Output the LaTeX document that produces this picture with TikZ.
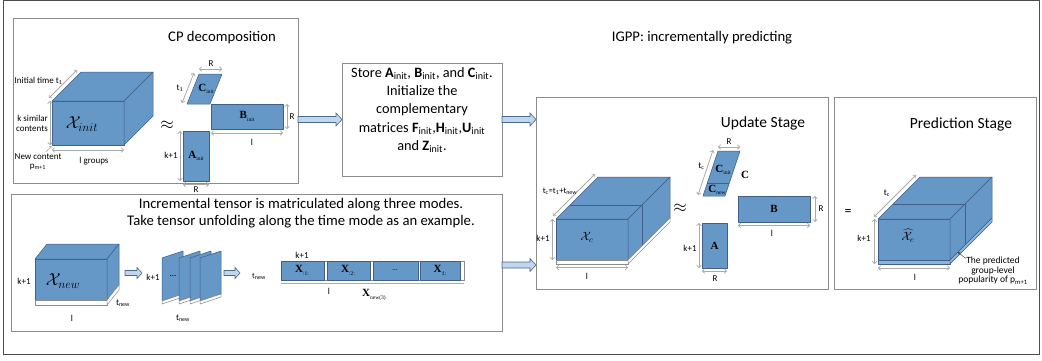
\documentclass[tikz,border=0pt]{standalone}
\usepackage{fontspec}
\setmainfont{Carlito}
\newfontfamily\serif{Liberation Serif}
\usetikzlibrary{arrows.meta,calc}
\definecolor{cubefill}{RGB}{101,151,199}
\definecolor{cubeedge}{RGB}{65,95,135}
\definecolor{stripfill}{RGB}{140,180,218}
\definecolor{boxgray}{RGB}{140,140,140}
\definecolor{dimgray}{RGB}{170,170,170}
\definecolor{arrfill}{RGB}{192,213,238}
\definecolor{arredge}{RGB}{75,105,140}
\newcommand\msub[2]{{\serif\bfseries #1}\raisebox{-0.45ex}{\serif\fontsize{5.5}{6}\selectfont #2}}
\newcommand\ssub[2]{\textbf{#1}\textsubscript{#2}}
\newcommand\drawcube[6]{%
  \filldraw[cube] (#1,#2) rectangle ++(#3,#4);
  \filldraw[cube] (#1,#2) -- ++(#5,-#6) -- ++(#3,0) -- ++(-#5,#6) -- cycle;
  \filldraw[cube] (#1+#3,#2) -- ++(#5,-#6) -- ++(0,#4) -- ++(-#5,#6) -- cycle;
}
\tikzset{
  box/.style={draw=boxgray, line width=0.7pt, anchor=north west, inner sep=0pt, outer sep=0pt},
  cube/.style={fill=cubefill, draw=cubeedge, line width=0.5pt, line join=round},
  strip/.style={fill=white, draw=boxgray, line width=0.5pt},
  dim/.style={draw=dimgray, line width=0.8pt, {Straight Barb[length=2pt,width=4.5pt]}-{Straight Barb[length=2pt,width=4.5pt]}},
  lab/.style={font=\fontsize{9}{10}\selectfont, inner sep=0.5pt},
  mlab/.style={font=\fontsize{11}{12}\selectfont, inner sep=0.5pt},
  title/.style={font=\fontsize{14.7}{17}\selectfont, inner sep=0pt},
  barrow/.style n args={3}{fill=arrfill, draw=arredge, line width=0.6pt, line join=miter,
    to path={let \p1=(\tikztostart), \p2=(\tikztotarget) in
      ({\x1},{\y1+#1}) -- ({\x2-#3},{\y1+#1}) -- ({\x2-#3},{\y1+#2}) -- ({\x2},{\y1})
      -- ({\x2-#3},{\y1-#2}) -- ({\x2-#3},{\y1-#1}) -- ({\x1},{\y1-#1}) -- cycle}}
}
\begin{document}
\begin{tikzpicture}[x=1pt,y=-1pt]
\useasboundingbox (0,0) rectangle (1042,360);
% outer frame
\draw[black!70, line width=0.9pt] (3.5,0.5) rectangle (1039.5,354);
% boxes
\node[box, minimum width=285pt, minimum height=165pt] (cpbox) at (13,18) {};
\node[box, minimum width=160pt, minimum height=113pt] (storebox) at (342,63) {};
\node[box, minimum width=491pt, minimum height=137pt] (botbox) at (11,194) {};
\node[box, minimum width=292pt, minimum height=192pt] (updbox) at (536,97) {};
\node[box, minimum width=202pt, minimum height=192pt] (predbox) at (834,97) {};
% big connectors
\draw[barrow={3pt}{6.5pt}{6pt}] (cpbox.east |- storebox.west) to (storebox.west);
\draw[barrow={3pt}{6.5pt}{6pt}] (storebox.east) to (updbox.west |- storebox.east);
\coordinate (y265) at (0,265);
\coordinate (botout) at (botbox.east |- y265);
\coordinate (updin) at (updbox.west |- y265);
\draw[barrow={3pt}{6.5pt}{6pt}] (botout) to (updin);
% titles
\node[title] (cptitle) at (222,38) {CP decomposition};
\node[title] (igpp) at (702,38) {IGPP: incrementally predicting};
\node[title, font=\fontsize{15.5}{17}\selectfont] (updtitle) at (763,123) {Update Stage};
\node[title, font=\fontsize{15.5}{17}\selectfont] (predtitle) at (961,124) {Prediction Stage};
\node[title, align=center, font=\fontsize{14.3}{18.2}\selectfont] (storetext) at (422,110)
  {Store \ssub{A}{init}, \ssub{B}{init}, and \ssub{C}{init}.\\Initialize the\\complementary\\matrices \ssub{F}{init},\ssub{H}{init},\ssub{U}{init}\\and \ssub{Z}{init}.};
\node[title, align=center, font=\fontsize{14.7}{17}\selectfont] (bottext) at (301,213.5)
  {Incremental tensor is matriculated along three modes.\\Take tensor unfolding along the time mode as an example.};

% ---------- CP decomposition ----------
\drawcube{52}{101}{72}{44}{29}{29}
\node[font=\fontsize{18}{18}\selectfont, inner sep=0pt] (xinit) at (82,124) {$\mathcal{X}_{init}$};
\draw[dim] (49,98) -- (77,70);
\node[lab, anchor=west] (inittime) at (14,81) {Initial time t\textsubscript{1}};
\draw[dim] (50,101) -- (50,145);
\node[lab, align=right, anchor=east, font=\fontsize{9}{10}\selectfont] (ksim) at (48.5,123) {k similar\\contents};
\node[lab, anchor=west] (newc) at (14,157) {New content};
\node[lab] (pm1) at (38,167) {p\textsubscript{m+1}};
\draw[dimgray, line width=0.6pt, -{Straight Barb[length=1.5pt,width=3pt]}] (46,152) -- (51.5,146);
\draw[dim] (52,150) -- (124,150);
\node[lab] (lgroups) at (94,161) {l groups};
\node[font=\fontsize{16}{16}\selectfont] (approx1) at (167,125) {$\approx$};
% C_init
\filldraw[cube] (187,104) -- (210,104) -- (222,74) -- (199,74) -- cycle;
\node[mlab] (cinit) at (206,89) {\msub{C}{init}};
\draw[dim] (199,69) -- (222,69);
\node[lab] (cr) at (211,63.5) {R};
\draw[dim] (182,103) -- (194,73);
\node[lab] (ct1) at (180,88) {t\textsubscript{1}};
% B_init
\filldraw[cube] (211,104) rectangle (283,129);
\node[mlab] (binit) at (247,116.5) {\msub{B}{init}};
\draw[dim] (287,104) -- (287,129);
\node[lab] (br) at (292,117) {R};
\draw[dim] (211,133) -- (283,133);
\node[lab] (bl) at (252,142) {l};
% A_init
\filldraw[cube] (183,131) rectangle (209,181);
\node[mlab] (ainit) at (196,156) {\msub{A}{init}};
\draw[dim] (180,131) -- (180,181);
\node[lab] (ak) at (171,155) {k+1};
\draw[dim] (183,184.5) -- (209,184.5);
\node[lab] (ar) at (196,189.5) {R};

% ---------- bottom box ----------
\drawcube{35}{259}{72}{41}{12}{15}
\filldraw[strip] (35,300) rectangle (107,305);
\filldraw[strip] (107,300) -- (119,285) -- (119,290) -- (107,305) -- cycle;
\node[font=\fontsize{18}{18}\selectfont, inner sep=0pt] (xnew) at (63,281) {$\mathcal{X}_{new}$};
\node[lab] (nk) at (24,281) {k+1};
\node[lab] (nl) at (72,318) {l};
\node[lab] (ntn) at (123,303) {t\textsubscript{new}};
\coordinate (sa1) at (125,273);
\coordinate (sa2) at (142,273);
\draw[barrow={2.5pt}{5.5pt}{5pt}] (sa1) to (sa2);
% slices
\foreach \L in {162,179,190,200}{
  \filldraw[cube] (\L,258) -- (\L+21,251) -- (\L+21,294) -- (\L,301) -- cycle;
  \filldraw[strip] (\L,301) -- (\L+21,294) -- (\L+21,297) -- (\L,304) -- cycle;
}
\node[lab] (sdots) at (173,276) {...};
\node[lab] (sk) at (153,277) {k+1};
\node[lab] (stn) at (183,318) {t\textsubscript{new}};
\coordinate (sb1) at (224,273);
\coordinate (sb2) at (240,273);
\draw[barrow={2.5pt}{5.5pt}{5pt}] (sb1) to (sb2);
% unfolded matrix
\node[font=\fontsize{8}{9}\selectfont, inner sep=0pt] (mtn) at (259,276) {t\textsubscript{new}};
\filldraw[strip] (281,261) rectangle (464,280);
\filldraw[cube] (281,261) rectangle (324,280);
\filldraw[cube] (327,261) rectangle (370,280);
\filldraw[cube] (373,261) rectangle (418,280);
\filldraw[cube] (420,261) rectangle (460,280);
\node[mlab] (x1) at (302,270.5) {\msub{X}{:1:}};
\node[mlab] (x2) at (348,270.5) {\msub{X}{:2:}};
\node[font=\fontsize{7}{8}\selectfont] (xd) at (395,270.5) {...};
\node[mlab] (xl) at (440,270.5) {\msub{X}{:l:}};
\draw[dimgray, line width=0.6pt] (281,283) -- (464,283);
\node[lab] (mk) at (302,255) {k+1};
\node[lab] (ml) at (329,291) {l};
\node[mlab] (xnew3) at (374,295) {\msub{X}{new(3)}};

% ---------- Update stage ----------
\drawcube{556}{219}{72}{41}{42}{42}
\draw[cubeedge, line width=0.5pt] (570,205) -- (642,205) -- (642,246);
\filldraw[strip] (556,260) rectangle (628,264);
\filldraw[strip] (628,260) -- (670,218) -- (670,222) -- (628,264) -- cycle;
\node[font=\fontsize{12}{12}\selectfont] (xc) at (587,237) {$\mathcal{X}_c$};
\draw[dim] (552.5,219) -- (552.5,260);
\node[lab] (uk) at (543,238) {k+1};
\draw[dim] (556,267.5) -- (628,267.5);
\node[lab] (ul) at (587,276) {l};
\draw[dim] (553,216) -- (595,174);
\node[lab, font=\fontsize{8.5}{9}\selectfont] (utc) at (560,191) {t\textsubscript{c}=t\textsubscript{1}+t\textsubscript{new}};
\node[font=\fontsize{16}{16}\selectfont] (approx2) at (680,208) {$\approx$};
% C
\filldraw[cube] (703,196) -- (725,196) -- (740,151) -- (718,151) -- cycle;
\draw[cubeedge, line width=0.5pt] (707.3,183) -- (729.3,183);
\node[mlab] (ucinit) at (723,170) {\msub{C}{init}};
\node[mlab] (ucnew) at (717,190) {\msub{C}{new}};
\node[mlab] (uc) at (745,175) {{\serif\bfseries C}};
\draw[dim] (718,147) -- (740,147);
\node[lab] (ucr) at (729,141.5) {R};
\draw[dim] (698,195) -- (713,150);
\node[lab, anchor=east] (uctc) at (705,166) {t\textsubscript{c}};
% B
\filldraw[cube] (738,196) rectangle (810,222);
\node[mlab] (ub) at (774,209) {{\serif\bfseries B}};
\draw[dim] (815,196) -- (815,222);
\node[lab] (ubr) at (821,209) {R};
\draw[dim] (738,225.5) -- (810,225.5);
\node[lab] (ubl) at (772,233) {l};
% A
\filldraw[cube] (702,223) rectangle (727,268);
\node[mlab] (ua) at (714.5,246) {{\serif\bfseries A}};
\draw[dim] (699,223) -- (699,268);
\node[lab] (uak) at (690,248) {k+1};
\draw[dim] (702,271) -- (727,271);
\node[lab] (uar) at (715,279) {R};

% ---------- Prediction stage ----------
\node[font=\fontsize{14}{14}\selectfont] (eq) at (848,212) {=};
\drawcube{878}{219}{72}{41}{42}{42}
\draw[cubeedge, line width=0.5pt] (893,204) -- (965,204) -- (965,245);
\filldraw[cube, fill=stripfill] (878,260) rectangle (950,264);
\filldraw[cube, fill=stripfill] (950,260) -- (992,218) -- (992,222) -- (950,264) -- cycle;
\node[font=\fontsize{12}{12}\selectfont, inner sep=0pt] (xhat) at (908,236) {$\widehat{\mathcal{X}}_c$};
\draw[dim] (874,217) -- (916,175);
\node[lab] (ptc) at (887,193) {t\textsubscript{c}};
\draw[dim] (874.5,219) -- (874.5,264);
\node[lab] (pk) at (864,238) {k+1};
\draw[dim] (878,268) -- (950,268);
\node[lab] (pl) at (915,277) {l};
\node[align=center, font=\fontsize{9.5}{9.8}\selectfont, inner sep=0pt] (predtxt) at (993,270.5)
  {The predicted\\group-level\\popularity of p\textsubscript{m+1}};
\draw[black!70, line width=0.5pt, -{Stealth[length=3pt,width=3pt]}] (966,258.5) -- (957.5,252);
\end{tikzpicture}
\end{document}
